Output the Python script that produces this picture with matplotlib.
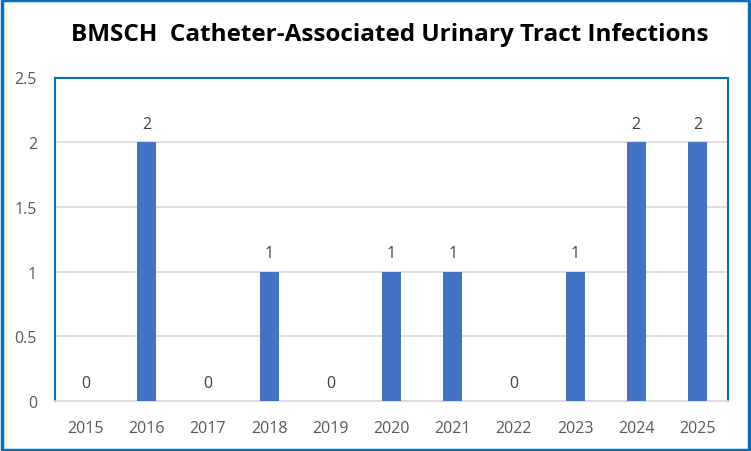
import matplotlib
matplotlib.use("Agg")
import matplotlib.pyplot as plt
from matplotlib.patches import Rectangle

years = ["2015", "2016", "2017", "2018", "2019", "2020", "2021", "2022", "2023", "2024", "2025"]
infections = [0, 2, 0, 1, 0, 1, 1, 0, 1, 2, 2]
yticks = [0, 0.5, 1, 1.5, 2, 2.5]
ytick_labels = ["0", "0.5", "1", "1.5", "2", "2.5"]

plt.rcParams['font.family'] = ['Open Sans', 'DejaVu Sans']
blue = "#4472C4"
border = "#0070C0"
gray_text = "#595959"

fig = plt.figure(figsize=(7.51, 4.52), dpi=100)
ax = fig.add_axes([55/751, 1-402/452, (728-55)/751, (402-78.5)/452])

x = list(range(len(years)))
ax.bar(x, infections, width=0.31, color=blue, zorder=3)
for xi, v in zip(x, infections):
    ax.text(xi, v + 0.08, str(v), ha='center', va='bottom', fontsize=11.5, color="#404040")

ax.set_xlim(-0.5, len(years) - 0.5)
ax.set_ylim(0, 2.5)
ax.set_yticks(yticks)
ax.set_yticklabels(ytick_labels)
ax.set_xticks(x)
ax.set_xticklabels(years)
ax.tick_params(axis='both', length=0, labelsize=11.5, labelcolor=gray_text)
ax.tick_params(axis='x', pad=14)
ax.tick_params(axis='y', pad=13)
ax.yaxis.grid(True, color="#D9D9D9", linewidth=1.2, zorder=0)
ax.set_axisbelow(True)
for s in ['left', 'top', 'right']:
    ax.spines[s].set_color(border)
    ax.spines[s].set_linewidth(1.5)
ax.spines['bottom'].set_color("#D9D9D9")
ax.spines['bottom'].set_linewidth(1.2)

fig.text(390/751, 1-35/452, "BMSCH  Catheter-Associated Urinary Tract Infections",
         ha='center', va='center', fontsize=17.5, fontweight='bold', color='black')

fig.patches.append(Rectangle((0.002, 0.003), 0.996, 0.994, transform=fig.transFigure,
                             fill=False, edgecolor=border, linewidth=2.5))

fig.savefig("out.png", dpi=100)
